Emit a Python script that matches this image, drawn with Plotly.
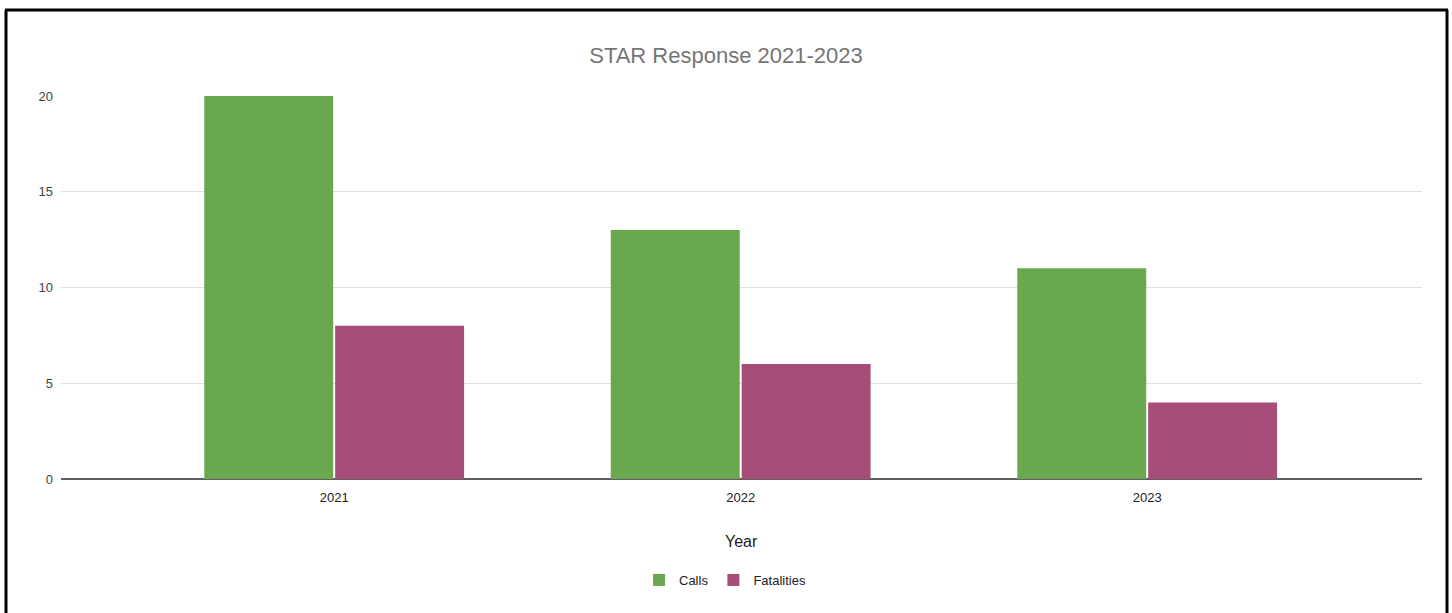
import plotly.graph_objects as go

years = ["2021", "2022", "2023"]
calls = [20, 13, 11]
fatalities = [8, 6, 4]
y_ticks = [0, 5, 10, 15, 20]

W, H = 1452, 613
L, R, T, B = 61, 30, 96, 134
pw, ph = W - L - R, H - T - B

def px(x):
    return (x - L) / pw

def py(y):
    return (H - B - y) / ph

font = "Arial, 'Liberation Sans', sans-serif"

fig = go.Figure()
fig.add_trace(go.Bar(x=years, y=calls, name="Calls", marker=dict(color="#6aa84f", line=dict(width=0))))
fig.add_trace(go.Bar(x=years, y=fatalities, name="Fatalities", marker=dict(color="#a64d79", line=dict(width=0))))

fig.update_layout(
    width=W, height=H,
    margin=dict(l=L, r=R, t=T, b=B, pad=0),
    paper_bgcolor="white", plot_bgcolor="white",
    barmode="group", bargap=0.356, bargroupgap=0.015,
    font=dict(family=font, size=13, color="#444"),
    title=dict(text="STAR Response 2021-2023", x=px(726), xanchor="center",
               y=1 - 55 / H, yanchor="middle", xref="paper",
               font=dict(family=font, size=22, color="#757575")),
    showlegend=True,
    legend=dict(orientation="h", x=px(725), xanchor="center", y=py(580), yanchor="middle",
                font=dict(family=font, size=13, color="#222"),
                bgcolor="rgba(0,0,0,0)"),
    xaxis=dict(type="category", range=[-0.672, 2.676], showgrid=False, ticks="",
               ticklabelstandoff=9,
               tickfont=dict(family=font, size=13, color="#222"), showline=False, zeroline=False),
    yaxis=dict(range=[0, 20], tickvals=y_ticks, showgrid=True, gridcolor="#e0e0e0", gridwidth=1,
               zeroline=True, zerolinecolor="#5f5f5f", zerolinewidth=2, ticks="",
               ticklabelstandoff=7,
               tickfont=dict(family=font, size=13, color="#444")),
    annotations=[dict(text="Year", xref="paper", yref="paper", x=px(741), y=py(541),
                      xanchor="center", yanchor="middle", showarrow=False,
                      font=dict(family=font, size=16, color="#222"))],
    shapes=[
        dict(type="line", xref="paper", yref="paper", x0=px(6), x1=px(6), y0=py(10), y1=py(640),
             line=dict(color="black", width=3)),
        dict(type="line", xref="paper", yref="paper", x0=px(5), x1=px(1448), y0=py(10), y1=py(10),
             line=dict(color="black", width=3)),
        dict(type="line", xref="paper", yref="paper", x0=px(1447), x1=px(1447), y0=py(10), y1=py(640),
             line=dict(color="black", width=3)),
    ],
)

fig.write_html("out.html")
